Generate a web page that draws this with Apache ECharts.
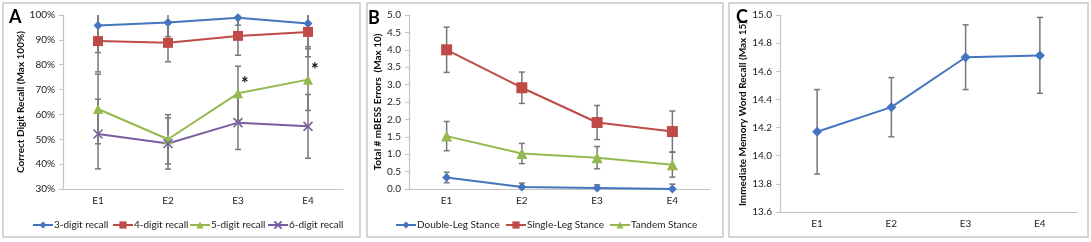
<!DOCTYPE html>
<html>
<head>
<meta charset="utf-8">
<script src="https://cdn.jsdelivr.net/npm/echarts@6/dist/echarts.min.js"></script>
<style>
  html, body { margin: 0; padding: 0; background: #fff; }
  #chart { width: 1091px; height: 242px; }
</style>
</head>
<body>
<div id="chart"></div>
<script>
// categories (test sessions)
const cats = ['E1', 'E2', 'E3', 'E4'];

// panel A - correct digit recall (%)
const recall3 = [95.8, 97.0, 98.9, 96.6];
const sd3 = [10.9, 5.7, 3.0, 9.4];
const recall4 = [89.5, 88.8, 91.6, 93.2];
const sd4 = [12.4, 7.6, 7.8, 10.0];
const recall5 = [62.2, 50.0, 68.5, 74.0];
const sd5 = [14.0, 9.9, 10.9, 12.4];
const recall6 = [52.1, 48.3, 56.7, 55.2];
const sd6 = [14.0, 10.3, 10.8, 12.8];
const starIdx = [2, 3];   // significant points on 5-digit series

// panel B - mBESS errors
const doubleLeg = [0.33, 0.06, 0.03, 0.0];
const sdDouble = [0.15, 0.11, 0.09, 0.14];
const singleLeg = [4.0, 2.91, 1.91, 1.65];
const sdSingle = [0.65, 0.45, 0.49, 0.59];
const tandem = [1.52, 1.02, 0.90, 0.70];
const sdTandem = [0.42, 0.29, 0.32, 0.36];

// panel C - immediate memory word recall
const wordRecall = [14.17, 14.345, 14.70, 14.713];
const sdWord = [0.30, 0.21, 0.23, 0.27];

const FONT = 'Lato';
const BLUE = '#4475be', RED = '#be4b48', GREEN = '#94b94f', PURPLE = '#7b5ea0';
const ERR = '#777777';

function errData(mean, sd) {
    return mean.map(function (m, i) { return [i, m - sd[i], m + sd[i]]; });
}

function errRender(params, api) {
    var cs = params.coordSys;
    var top = cs.y, bottom = cs.y + cs.height;
    var p1 = api.coord([api.value(0), api.value(1)]);
    var p2 = api.coord([api.value(0), api.value(2)]);
    var x = p1[0], w = 3;
    var st = { stroke: ERR, lineWidth: 1.5 };
    var yLo = Math.min(p1[1], bottom), yHi = Math.max(p2[1], top);
    var kids = [{ type: 'line', shape: { x1: x, y1: yLo, x2: x, y2: yHi }, style: st }];
    if (p1[1] <= bottom) kids.push({ type: 'line', shape: { x1: x - w, y1: p1[1], x2: x + w, y2: p1[1] }, style: st });
    if (p2[1] >= top) kids.push({ type: 'line', shape: { x1: x - w, y1: p2[1], x2: x + w, y2: p2[1] }, style: st });
    return { type: 'group', children: kids };
}

function errSeries(idx, mean, sd) {
    return {
        type: 'custom', xAxisIndex: idx, yAxisIndex: idx, z: 1,
        renderItem: errRender, data: errData(mean, sd), silent: true
    };
}

function lineSeries(idx, name, data, color, symbol, size) {
    return {
        type: 'line', name: name, xAxisIndex: idx, yAxisIndex: idx, z: 3,
        data: data, symbol: symbol, symbolSize: size,
        lineStyle: { color: color, width: 2 },
        itemStyle: { color: color, borderColor: color, borderWidth: symbol.indexOf('path') === 0 ? 1.5 : 0 },
        animation: false
    };
}

const CROSS = 'path://M0,0L10,10M10,0L0,10';

function xAx(gi) {
    return {
        type: 'category', gridIndex: gi, data: cats, boundaryGap: true,
        axisLine: { lineStyle: { color: '#c4c4c4', width: 1.2 } },
        axisTick: { alignWithLabel: true, length: 3, lineStyle: { color: '#c4c4c4' } },
        axisLabel: { color: '#222', fontFamily: FONT, fontSize: 10, margin: 7 }
    };
}

function yAx(gi, min, max, interval, fmt, name, gap) {
    return {
        type: 'value', gridIndex: gi, min: min, max: max, interval: interval,
        name: name, nameLocation: 'middle', nameGap: gap, nameRotate: 90,
        nameTextStyle: { fontFamily: FONT, fontSize: 10, fontWeight: 'bold', color: '#111' },
        axisLine: { show: true, lineStyle: { color: '#c4c4c4', width: 1.2 } },
        axisTick: { show: true, length: 4, lineStyle: { color: '#c4c4c4' } },
        splitLine: { show: false },
        axisLabel: { color: '#222', fontFamily: FONT, fontSize: 10, margin: 8, formatter: fmt }
    };
}

const star5 = recall5.map(function (v, i) {
    if (starIdx.indexOf(i) < 0) return v;
    return {
        value: v,
        label: { show: true, formatter: '*', position: 'right', distance: 0, offset: [-2, -9],
                 fontSize: 18, fontWeight: 'bold', color: '#111', fontFamily: FONT }
    };
});

function oneLegend(name, left) {
    return {
        data: [name], left: left, top: 215, itemWidth: 20, itemHeight: 9,
        textStyle: { fontFamily: FONT, fontSize: 10, color: '#222', padding: [0, 0, 0, -4] }
    };
}

const option = {
    animation: false,
    graphic: [
        { type: 'rect', shape: { x: 3, y: 3, width: 357, height: 234 }, style: { fill: 'none', stroke: '#c8c8c8', lineWidth: 1.5 } },
        { type: 'rect', shape: { x: 367, y: 3, width: 356, height: 234 }, style: { fill: 'none', stroke: '#c8c8c8', lineWidth: 1.5 } },
        { type: 'rect', shape: { x: 729, y: 3, width: 359, height: 234 }, style: { fill: 'none', stroke: '#c8c8c8', lineWidth: 1.5 } },
        { type: 'text', left: 9, top: 8, style: { text: 'A', font: 'bold 18px ' + FONT, fill: '#000' } },
        { type: 'text', left: 368, top: 9, style: { text: 'B', font: 'bold 18px ' + FONT, fill: '#000' } },
        { type: 'text', left: 736, top: 8, style: { text: 'C', font: 'bold 18px ' + FONT, fill: '#000' } }
    ],
    grid: [
        { left: 63, top: 15, width: 280, height: 174 },
        { left: 409, top: 15, width: 301, height: 174 },
        { left: 780, top: 15, width: 297, height: 197 }
    ],
    legend: [
        oneLegend('3-digit recall', 27),
        oneLegend('4-digit recall', 107),
        oneLegend('5-digit recall', 184),
        oneLegend('6-digit recall', 262),
        oneLegend('Double-Leg Stance', 390),
        oneLegend('Single-Leg Stance', 500),
        oneLegend('Tandem Stance', 604)
    ],
    xAxis: [xAx(0), xAx(1), xAx(2)],
    yAxis: [
        yAx(0, 30, 100, 10, '{value}%', 'Correct Digit Recall (Max 100%)', 32),
        yAx(1, 0, 5, 0.5, function (v) { return v.toFixed(1); }, 'Total # mBESS Errors  (Max 10)', 24),
        yAx(2, 13.6, 15.0, 0.2, function (v) { return v.toFixed(1); }, 'Immediate Memory Word Recall (Max 15)', 32)
    ],
    series: [
        errSeries(0, recall3, sd3),
        errSeries(0, recall4, sd4),
        errSeries(0, recall5, sd5),
        errSeries(0, recall6, sd6),
        lineSeries(0, '3-digit recall', recall3, BLUE, 'diamond', 9),
        lineSeries(0, '4-digit recall', recall4, RED, 'rect', 10),
        lineSeries(0, '5-digit recall', star5, GREEN, 'triangle', 10),
        lineSeries(0, '6-digit recall', recall6, PURPLE, CROSS, 9),

        errSeries(1, doubleLeg, sdDouble),
        errSeries(1, singleLeg, sdSingle),
        errSeries(1, tandem, sdTandem),
        lineSeries(1, 'Double-Leg Stance', doubleLeg, BLUE, 'diamond', 9),
        lineSeries(1, 'Single-Leg Stance', singleLeg, RED, 'rect', 11),
        lineSeries(1, 'Tandem Stance', tandem, GREEN, 'triangle', 11),

        errSeries(2, wordRecall, sdWord),
        lineSeries(2, 'Word Recall', wordRecall, BLUE, 'diamond', 10)
    ]
};

const chart = echarts.init(document.getElementById('chart'), null, { renderer: 'canvas' });
chart.setOption(option);
</script>
</body>
</html>
